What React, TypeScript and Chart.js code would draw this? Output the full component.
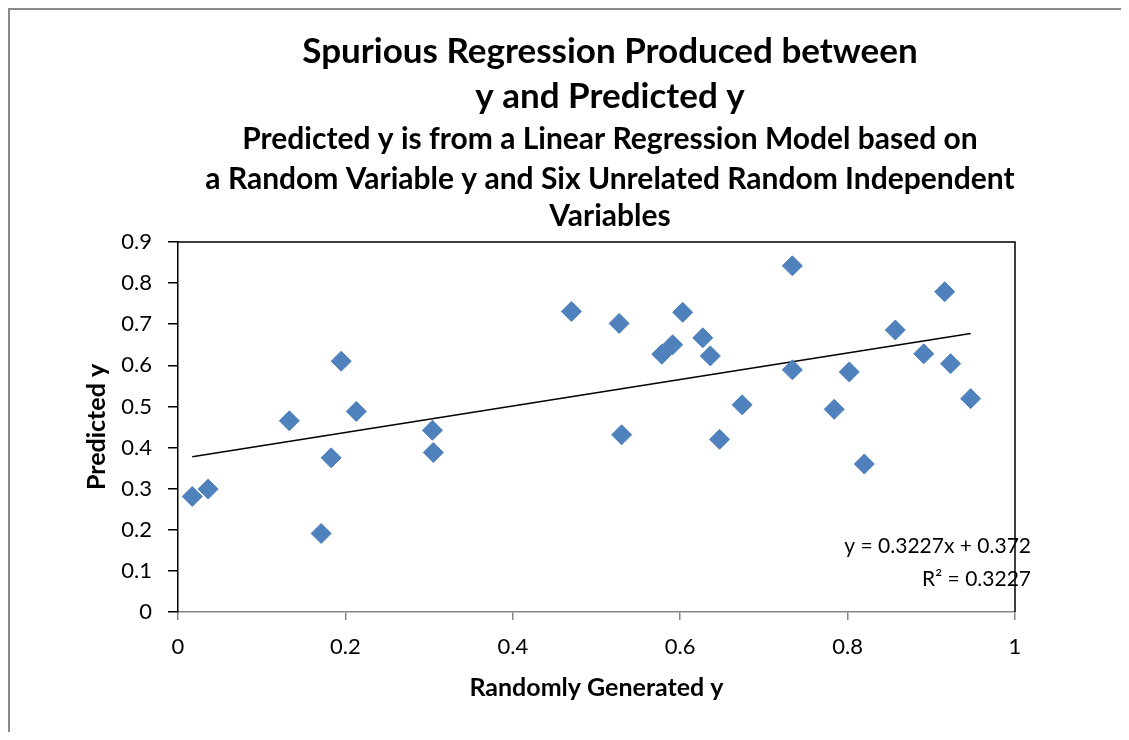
import React, { useEffect, useRef } from "react";
import { Chart, registerables } from "chart.js";

Chart.register(...registerables);

const titleLines = ["Spurious Regression Produced between", "y and Predicted y"];
const subtitleLines = [
  "Predicted y is from a Linear Regression Model based on",
  "a Random Variable y and Six Unrelated Random Independent",
  "Variables",
];
const xAxisTitle = "Randomly Generated y";
const yAxisTitle = "Predicted y";

const randomY = [
  0.017, 0.036, 0.133, 0.171, 0.183, 0.195, 0.213, 0.304, 0.305, 0.47,
  0.527, 0.53, 0.578, 0.591, 0.603, 0.627, 0.636, 0.647, 0.674, 0.734,
  0.734, 0.784, 0.802, 0.82, 0.857, 0.891, 0.916, 0.923, 0.947,
];
const predictedY = [
  0.281, 0.299, 0.465, 0.191, 0.375, 0.61, 0.488, 0.442, 0.388, 0.731,
  0.702, 0.431, 0.627, 0.65, 0.729, 0.667, 0.623, 0.42, 0.504, 0.842,
  0.589, 0.493, 0.584, 0.36, 0.686, 0.628, 0.779, 0.604, 0.519,
];

const trendSlope = 0.3227;
const trendIntercept = 0.372;
const trendRangeX = [0.017, 0.947];
const equationLines = ["y = 0.3227x + 0.372", "R² = 0.3227"];

const xTickValues = [0, 0.2, 0.4, 0.6, 0.8, 1];
const xTickLabels = ["0", "0.2", "0.4", "0.6", "0.8", "1"];
const yTickValues = [0, 0.1, 0.2, 0.3, 0.4, 0.5, 0.6, 0.7, 0.8, 0.9];
const yTickLabels = ["0", "0.1", "0.2", "0.3", "0.4", "0.5", "0.6", "0.7", "0.8", "0.9"];

const FONT = "Lato";

const decorPlugin = {
  id: "decor",
  beforeDraw(chart: any) {
    const ctx = chart.ctx;
    ctx.save();
    ctx.fillStyle = "#ffffff";
    ctx.fillRect(0, 0, chart.width, chart.height);
    ctx.restore();
  },
  afterDraw(chart: any) {
    const ctx = chart.ctx;
    const area = chart.chartArea;
    ctx.save();
    // outer chart frame (left and top)
    ctx.strokeStyle = "#8a8a8a";
    ctx.lineWidth = 2;
    ctx.beginPath();
    ctx.moveTo(9, chart.height);
    ctx.lineTo(9, 9);
    ctx.lineTo(chart.width, 9);
    ctx.stroke();

    // plot area frame (top and right)
    ctx.strokeStyle = "#000000";
    ctx.lineWidth = 1.5;
    ctx.beginPath();
    ctx.moveTo(area.left, area.top);
    ctx.lineTo(area.right, area.top);
    ctx.lineTo(area.right, area.bottom);
    ctx.stroke();

    // titles
    ctx.fillStyle = "#000000";
    ctx.textAlign = "center";
    ctx.textBaseline = "middle";
    const cx = 610;
    ctx.font = `bold 35px ${FONT}`;
    const titleY = [52, 97];
    titleLines.forEach((t, i) => ctx.fillText(t, cx, titleY[i]));
    ctx.font = `bold 30px ${FONT}`;
    const subY = [139, 179, 216];
    subtitleLines.forEach((t, i) => ctx.fillText(t, cx, subY[i]));

    // trendline equation
    ctx.textAlign = "right";
    ctx.font = `21px ${FONT}`;
    const eqY = [546, 579];
    equationLines.forEach((t, i) => ctx.fillText(t, 1031, eqY[i]));
    ctx.restore();
  },
};

export default function App() {
  const canvasRef = useRef<HTMLCanvasElement | null>(null);

  useEffect(() => {
    const canvas = canvasRef.current;
    if (!canvas) return;
    const points = randomY.map((x, i) => ({ x, y: predictedY[i] }));
    const trend = trendRangeX.map((x) => ({ x, y: trendSlope * x + trendIntercept }));

    const chart = new Chart(canvas, {
      type: "scatter",
      data: {
        datasets: [
          {
            type: "line",
            label: "Linear trend",
            data: trend,
            borderColor: "#000000",
            borderWidth: 1.5,
            pointRadius: 0,
            fill: false,
            order: 2,
          } as any,
          {
            label: "Predicted y",
            data: points,
            pointStyle: "rectRot",
            pointRadius: 10,
            pointHoverRadius: 10,
            backgroundColor: "#4F81BD",
            borderColor: "#4F81BD",
            borderWidth: 1,
            order: 1,
          },
        ],
      },
      options: {
        animation: false,
        responsive: false,
        maintainAspectRatio: false,
        events: [],
        layout: { padding: { top: 242, right: 114, left: 78, bottom: 37 } },
        plugins: {
          legend: { display: false },
          tooltip: { enabled: false },
          title: { display: false },
        },
        scales: {
          x: {
            type: "linear",
            min: 0,
            max: 1,
            afterBuildTicks: (scale: any) => {
              scale.ticks = xTickValues.map((v) => ({ value: v }));
            },
            afterFit: (scale: any) => {
              scale.height = 91;
            },
            ticks: {
              callback: (_v: any, i: number) => xTickLabels[i],
              font: { family: FONT, size: 22 },
              color: "#000000",
              padding: 14,
              maxRotation: 0,
              autoSkip: false,
            },
            grid: {
              drawOnChartArea: false,
              drawTicks: true,
              tickLength: 8,
              color: "#868686",
              lineWidth: 1.5,
            },
            border: { display: true, color: "#868686", width: 1.5 },
            title: {
              display: true,
              text: xAxisTitle,
              font: { family: FONT, size: 25, weight: "bold" },
              color: "#000000",
              padding: { top: 0, bottom: 0 },
            },
          },
          y: {
            type: "linear",
            min: 0,
            max: 0.9,
            afterBuildTicks: (scale: any) => {
              scale.ticks = yTickValues.map((v) => ({ value: v }));
            },
            afterFit: (scale: any) => {
              scale.width = 100;
            },
            ticks: {
              callback: (_v: any, i: number) => yTickLabels[i],
              font: { family: FONT, size: 22 },
              color: "#000000",
              padding: 16,
              autoSkip: false,
            },
            grid: {
              drawOnChartArea: false,
              drawTicks: true,
              tickLength: 10,
              color: "#000000",
              lineWidth: 1.5,
            },
            border: { display: true, color: "#000000", width: 1.5 },
            title: {
              display: true,
              text: yAxisTitle,
              font: { family: FONT, size: 25, weight: "bold" },
              color: "#000000",
              padding: { top: 4, bottom: 0 },
            },
          },
        },
      },
      plugins: [decorPlugin],
    });
    return () => chart.destroy();
  }, []);

  return (
    <div
      style={{
        margin: -8,
        width: 1129,
        height: 740,
        overflow: "hidden",
        background: "#fff",
      }}
    >
      <canvas ref={canvasRef} width={1129} height={740} style={{ display: "block" }} />
    </div>
  );
}
